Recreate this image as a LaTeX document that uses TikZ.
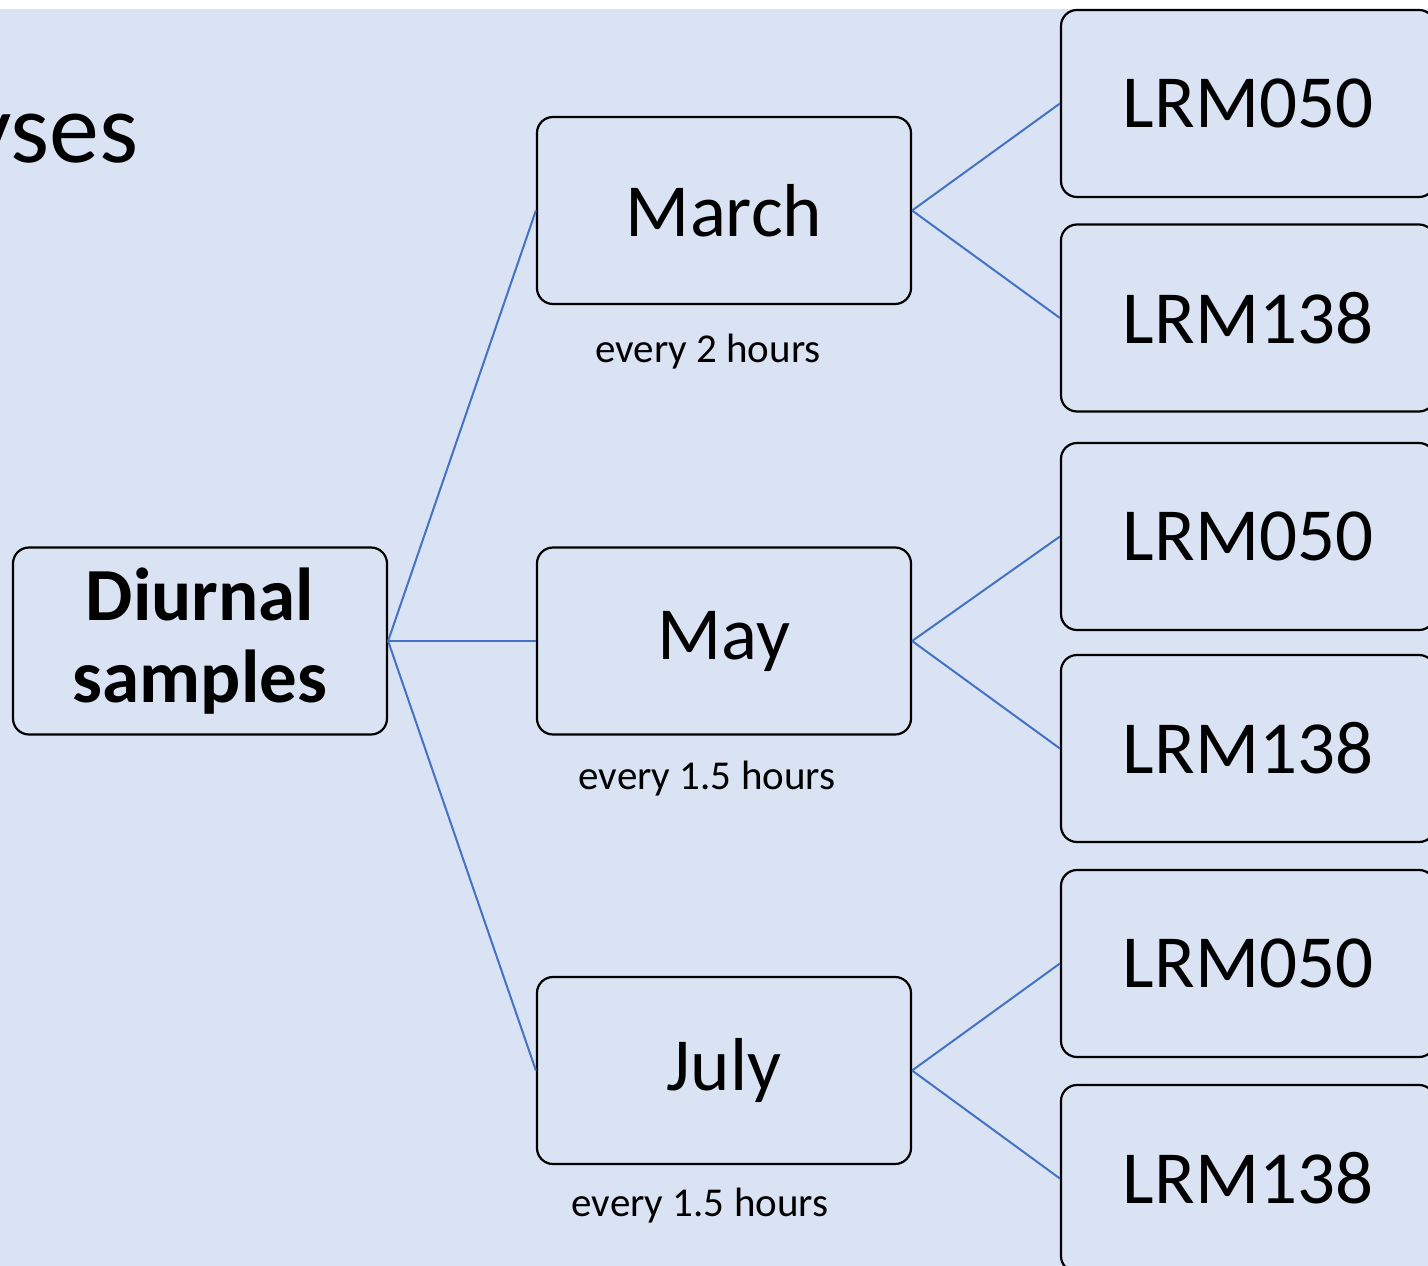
\documentclass[tikz,border=0pt]{standalone}
\usepackage{fontspec}
\setmainfont{Carlito}
\definecolor{bgblue}{HTML}{DAE3F3}
\definecolor{linkblue}{HTML}{4472C4}
\begin{document}
\begin{tikzpicture}[x=1pt,y=-1pt,
  box/.style={draw=black, line width=2.2pt, rounded corners=16pt, fill=bgblue,
    minimum width=374pt, minimum height=187pt, inner sep=0pt, align=center},
  big/.style={font=\fontsize{75}{82}\selectfont},
  small/.style={font=\fontsize{41}{44}\selectfont, inner sep=0pt},
  link/.style={draw=linkblue, line width=2pt}]
\useasboundingbox (0,0) rectangle (1428,1266);
\clip (0,0) rectangle (1428,1266);
\fill[white] (0,0) rectangle (1428,1266);
\fill[bgblue] (0,9) rectangle (1428,1266);
\node[anchor=base east, inner sep=0pt, font=\fontsize{100}{110}\selectfont] (title) at (139,162) {yses};
\node[box, big] (root) at (200,641) {\textbf{Diurnal}\\\textbf{samples}};
\node[box, big] (march) at (724,210.5) {March};
\node[box, big] (may) at (724,641) {May};
\node[box, big] (july) at (724,1070.5) {July};
\node[small, anchor=base] (t1) at (708,362) {every 2 hours};
\node[small, anchor=base] (t2) at (707,789) {every 1.5 hours};
\node[small, anchor=base] (t3) at (700,1216) {every 1.5 hours};
\node[box, big] (a1) at (1248,103.5) {LRM050};
\node[box, big] (a2) at (1248,318) {LRM138};
\node[box, big] (b1) at (1248,536.5) {LRM050};
\node[box, big] (b2) at (1248,748.5) {LRM138};
\node[box, big] (c1) at (1248,963.5) {LRM050};
\node[box, big] (c2) at (1248,1178.5) {LRM138};
\draw[link] (root.east) -- (march.west);
\draw[link] (root.east) -- (may.west);
\draw[link] (root.east) -- (july.west);
\draw[link] (march.east) -- (a1.west);
\draw[link] (march.east) -- (a2.west);
\draw[link] (may.east) -- (b1.west);
\draw[link] (may.east) -- (b2.west);
\draw[link] (july.east) -- (c1.west);
\draw[link] (july.east) -- (c2.west);
\end{tikzpicture}
\end{document}
